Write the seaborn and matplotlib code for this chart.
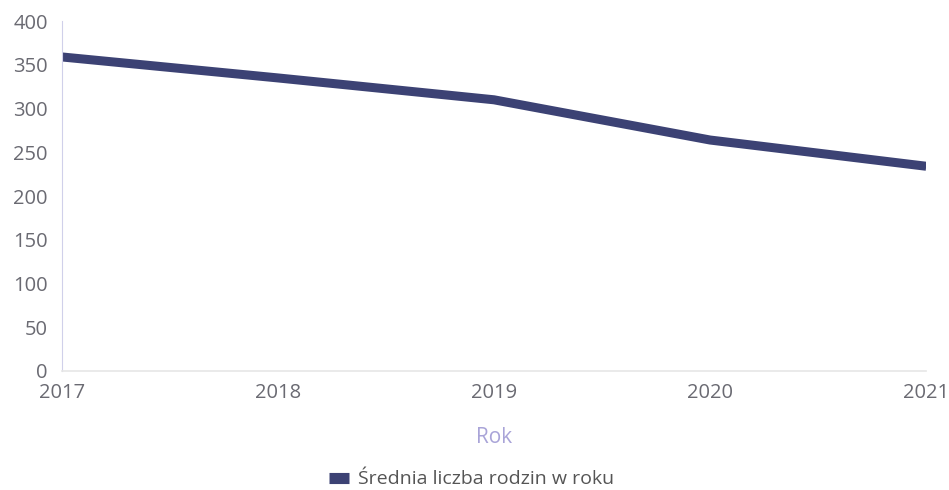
import pandas as pd
import matplotlib.pyplot as plt
import seaborn as sns

# dane
years = [2017, 2018, 2019, 2020, 2021]
families = [359, 335, 310, 264, 234]
series_name = 'Średnia liczba rodzin w roku'

df = pd.DataFrame({'Rok': years, 'value': families})

sns.set_style('white')
plt.rcParams['font.family'] = ['Open Sans', 'DejaVu Sans']

fig = plt.figure(figsize=(9.49, 4.9), dpi=100)
ax = fig.add_axes([0.065, 0.243, 0.911, 0.714])

sns.lineplot(data=df, x='Rok', y='value', color='#3c4274', linewidth=6.5,
             solid_capstyle='butt', label=series_name, ax=ax)

ax.set_xlim(2017, 2021)
ax.set_ylim(0, 400)
ax.set_xticks(years)
ax.set_yticks(range(0, 401, 50))
ax.tick_params(axis='both', length=0, labelsize=14.5, labelcolor='#6a6a72')
ax.tick_params(axis='x', pad=9)
ax.tick_params(axis='y', pad=10)

for s in ['top', 'right']:
    ax.spines[s].set_visible(False)
ax.spines['left'].set_color('#d0d0ea')
ax.spines['left'].set_linewidth(0.8)
ax.spines['bottom'].set_color('#e6e6e6')
ax.spines['bottom'].set_linewidth(1.2)

ax.set_ylabel('')
ax.set_xlabel('Rok', color='#a9a4d8', fontsize=15, labelpad=17)

leg = ax.legend(loc='center', bbox_to_anchor=(0.474, -0.31), frameon=False,
                fontsize=14, handlelength=1.0, handleheight=0.6, handletextpad=0.45)
for t in leg.get_texts():
    t.set_color('#555555')
for h in leg.get_lines():
    h.set_linewidth(8)

fig.savefig('out.png', dpi=100)
